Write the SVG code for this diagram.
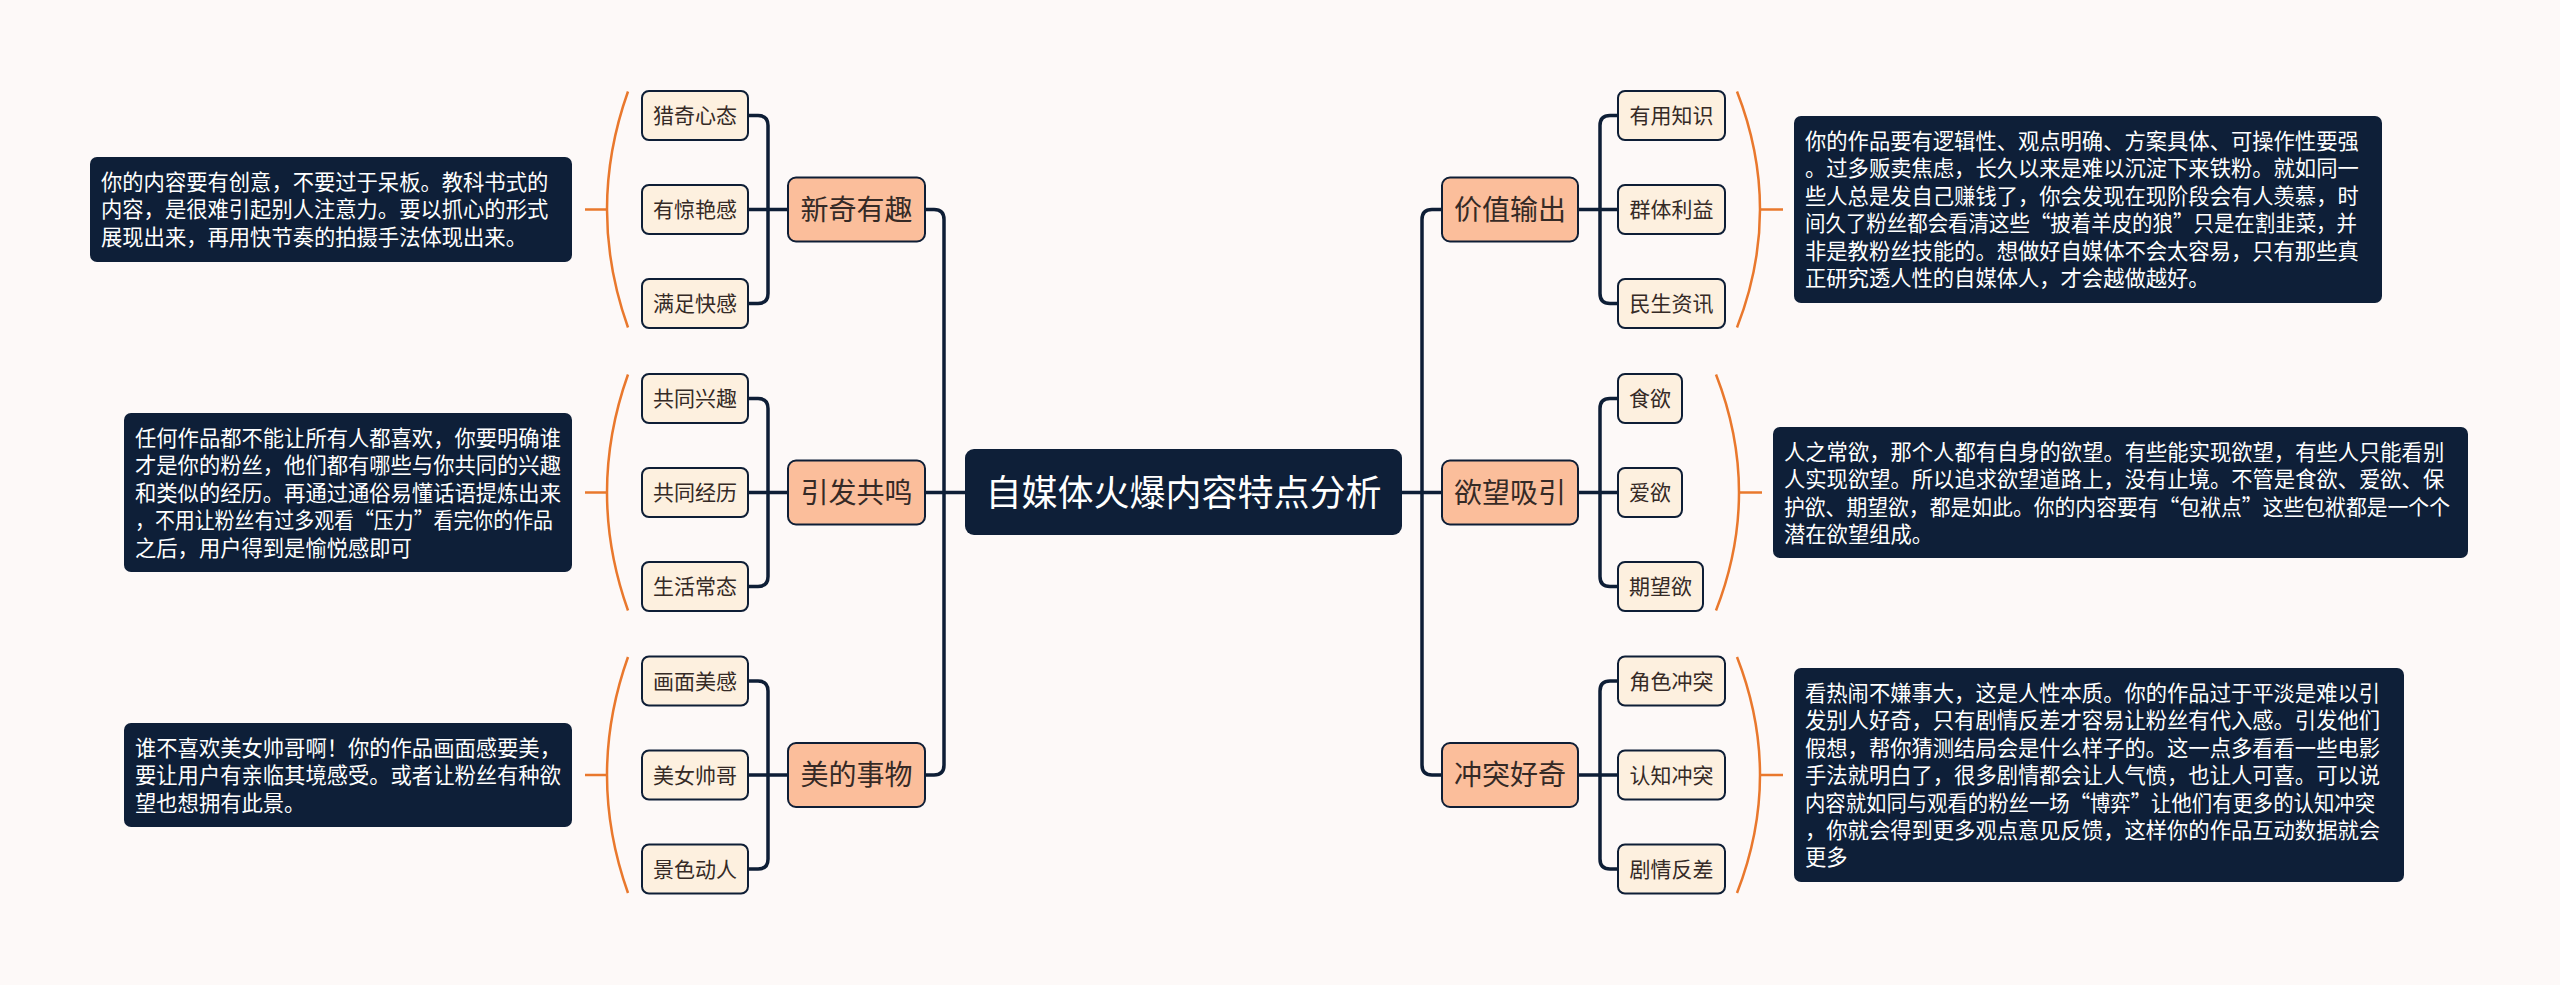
<svg xmlns="http://www.w3.org/2000/svg" width="2560" height="985" viewBox="0 0 2560 985">
<style>
.bg{fill:#FDF9F8}
.conn{fill:none;stroke:#0E1E36;stroke-width:3.5;stroke-linecap:round}
.brace{fill:none;stroke:#E9782D;stroke-width:2.5}
.leaf{fill:#FDF0DF;stroke:#0E1E36;stroke-width:2}
.branch{fill:#FBBE9B;stroke:#0E1E36;stroke-width:2}
.root{fill:#0E1F38}
.note{fill:#0E1F38}
.lt{font-family:"Noto Sans CJK SC","Noto Sans",sans-serif;font-size:21px;fill:#352a26;text-anchor:middle}
.bt{font-family:"Noto Sans CJK SC","Noto Sans",sans-serif;font-size:28px;fill:#352a26;text-anchor:middle}
.rt{font-family:"Noto Sans CJK SC","Noto Sans",sans-serif;font-size:36px;fill:#FFFFFF;text-anchor:middle}
.nt{font-family:"Noto Sans CJK SC","Noto Sans",sans-serif;font-size:21.3px;fill:#FFFFFF}
</style>
<rect class="bg" x="0" y="0" width="2560" height="985"/>

<g id="connectors">
  <path class="conn" d="M925 209.5 H934 Q944 209.5 944 219.5 V765 Q944 775 934 775 H925"/>
  <path class="conn" d="M925 492.5 H965"/>
  <path class="conn" d="M1442 209.5 H1432 Q1422 209.5 1422 219.5 V765 Q1422 775 1432 775 H1442"/>
  <path class="conn" d="M1402 492.5 H1442"/>
  <path class="conn" d="M748 115.5 H758 Q768 115.5 768 125.5 V293.5 Q768 303.5 758 303.5 H748"/>
  <path class="conn" d="M748 209.5 H788"/>
  <path class="conn" d="M748 398.5 H758 Q768 398.5 768 408.5 V576.5 Q768 586.5 758 586.5 H748"/>
  <path class="conn" d="M748 492.5 H788"/>
  <path class="conn" d="M748 681 H758 Q768 681 768 691 V859 Q768 869 758 869 H748"/>
  <path class="conn" d="M748 775 H788"/>
  <path class="conn" d="M1618 115.5 H1610 Q1600 115.5 1600 125.5 V293.5 Q1600 303.5 1610 303.5 H1618"/>
  <path class="conn" d="M1578 209.5 H1618"/>
  <path class="conn" d="M1618 398.5 H1610 Q1600 398.5 1600 408.5 V576.5 Q1600 586.5 1610 586.5 H1618"/>
  <path class="conn" d="M1578 492.5 H1618"/>
  <path class="conn" d="M1618 681 H1610 Q1600 681 1600 691 V859 Q1600 869 1610 869 H1618"/>
  <path class="conn" d="M1578 775 H1618"/>
</g>

<g id="braces">
  <path class="brace" d="M628 91.5 Q586 209.5 628 327.5"/><path class="brace" d="M585 209.5 H607"/>
  <path class="brace" d="M628 374.5 Q586 492.5 628 610.5"/><path class="brace" d="M585 492.5 H607"/>
  <path class="brace" d="M628 657 Q586 775 628 893"/><path class="brace" d="M585 775 H607"/>
  <path class="brace" d="M1737 91.5 Q1783 209.5 1737 327.5"/><path class="brace" d="M1760 209.5 H1783"/>
  <path class="brace" d="M1716 374.5 Q1762 492.5 1716 610.5"/><path class="brace" d="M1739 492.5 H1762"/>
  <path class="brace" d="M1737 657 Q1783 775 1737 893"/><path class="brace" d="M1760 775 H1783"/>
</g>

<g id="root">
  <rect class="root" x="965" y="449" width="437" height="86" rx="9"/>
  <text class="rt" x="1183.5" y="505.5">自媒体火爆内容特点分析</text>
</g>

<g id="b-xinqi">
  <rect class="branch" x="788" y="177.5" width="137" height="64" rx="8"/>
  <text class="bt" x="856.5" y="219.5">新奇有趣</text>
</g>
<g id="b-yinfa">
  <rect class="branch" x="788" y="460.5" width="137" height="64" rx="8"/>
  <text class="bt" x="856.5" y="502.5">引发共鸣</text>
</g>
<g id="b-meide">
  <rect class="branch" x="788" y="743" width="137" height="64" rx="8"/>
  <text class="bt" x="856.5" y="785">美的事物</text>
</g>
<g id="b-jiazhi">
  <rect class="branch" x="1442" y="177.5" width="136" height="64" rx="8"/>
  <text class="bt" x="1510" y="219.5">价值输出</text>
</g>
<g id="b-yuwang">
  <rect class="branch" x="1442" y="460.5" width="136" height="64" rx="8"/>
  <text class="bt" x="1510" y="502.5">欲望吸引</text>
</g>
<g id="b-chongtu">
  <rect class="branch" x="1442" y="743" width="136" height="64" rx="8"/>
  <text class="bt" x="1510" y="785">冲突好奇</text>
</g>

<g id="l-lieqi"><rect class="leaf" x="642" y="91" width="106" height="49" rx="7"/><text class="lt" x="695" y="123">猎奇心态</text></g>
<g id="l-jingyan"><rect class="leaf" x="642" y="185" width="106" height="49" rx="7"/><text class="lt" x="695" y="217">有惊艳感</text></g>
<g id="l-manzu"><rect class="leaf" x="642" y="279" width="106" height="49" rx="7"/><text class="lt" x="695" y="311">满足快感</text></g>
<g id="l-xingqu"><rect class="leaf" x="642" y="374" width="106" height="49" rx="7"/><text class="lt" x="695" y="406">共同兴趣</text></g>
<g id="l-jingli"><rect class="leaf" x="642" y="468" width="106" height="49" rx="7"/><text class="lt" x="695" y="500">共同经历</text></g>
<g id="l-shenghuo"><rect class="leaf" x="642" y="562" width="106" height="49" rx="7"/><text class="lt" x="695" y="594">生活常态</text></g>
<g id="l-huamian"><rect class="leaf" x="642" y="656.5" width="106" height="49" rx="7"/><text class="lt" x="695" y="688.5">画面美感</text></g>
<g id="l-meinv"><rect class="leaf" x="642" y="750.5" width="106" height="49" rx="7"/><text class="lt" x="695" y="782.5">美女帅哥</text></g>
<g id="l-jingse"><rect class="leaf" x="642" y="844.5" width="106" height="49" rx="7"/><text class="lt" x="695" y="876.5">景色动人</text></g>

<g id="l-youyong"><rect class="leaf" x="1618" y="91" width="107" height="49" rx="7"/><text class="lt" x="1671.5" y="123">有用知识</text></g>
<g id="l-qunti"><rect class="leaf" x="1618" y="185" width="107" height="49" rx="7"/><text class="lt" x="1671.5" y="217">群体利益</text></g>
<g id="l-minsheng"><rect class="leaf" x="1618" y="279" width="107" height="49" rx="7"/><text class="lt" x="1671.5" y="311">民生资讯</text></g>
<g id="l-shiyu"><rect class="leaf" x="1618" y="374" width="64" height="49" rx="7"/><text class="lt" x="1650" y="406">食欲</text></g>
<g id="l-aiyu"><rect class="leaf" x="1618" y="468" width="64" height="49" rx="7"/><text class="lt" x="1650" y="500">爱欲</text></g>
<g id="l-qiwang"><rect class="leaf" x="1618" y="562" width="85" height="49" rx="7"/><text class="lt" x="1660.5" y="594">期望欲</text></g>
<g id="l-juese"><rect class="leaf" x="1618" y="656.5" width="107" height="49" rx="7"/><text class="lt" x="1671.5" y="688.5">角色冲突</text></g>
<g id="l-renzhi"><rect class="leaf" x="1618" y="750.5" width="107" height="49" rx="7"/><text class="lt" x="1671.5" y="782.5">认知冲突</text></g>
<g id="l-juqing"><rect class="leaf" x="1618" y="844.5" width="107" height="49" rx="7"/><text class="lt" x="1671.5" y="876.5">剧情反差</text></g>

<g id="n-left1">
  <rect class="note" x="90" y="157" width="482" height="105" rx="7"/>
  <text class="nt" x="101" y="190">你的内容要有创意，不要过于呆板。教科书式的</text>
  <text class="nt" x="101" y="217.4">内容，是很难引起别人注意力。要以抓心的形式</text>
  <text class="nt" x="101" y="244.8">展现出来，再用快节奏的拍摄手法体现出来。</text>
</g>
<g id="n-left2">
  <rect class="note" x="124" y="413" width="448" height="159" rx="7"/>
  <text class="nt" x="135" y="446">任何作品都不能让所有人都喜欢，你要明确谁</text>
  <text class="nt" x="135" y="473.4">才是你的粉丝，他们都有哪些与你共同的兴趣</text>
  <text class="nt" x="135" y="500.8">和类似的经历。再通过通俗易懂话语提炼出来</text>
  <text class="nt" x="135" y="528.2" textLength="418" lengthAdjust="spacingAndGlyphs">，不用让粉丝有过多观看“压力”看完你的作品</text>
  <text class="nt" x="135" y="555.6">之后，用户得到是愉悦感即可</text>
</g>
<g id="n-left3">
  <rect class="note" x="124" y="723" width="448" height="104" rx="7"/>
  <text class="nt" x="135" y="756">谁不喜欢美女帅哥啊！你的作品画面感要美，</text>
  <text class="nt" x="135" y="783.4">要让用户有亲临其境感受。或者让粉丝有种欲</text>
  <text class="nt" x="135" y="810.8">望也想拥有此景。</text>
</g>
<g id="n-right1">
  <rect class="note" x="1794" y="116" width="588" height="187" rx="7"/>
  <text class="nt" x="1805" y="149">你的作品要有逻辑性、观点明确、方案具体、可操作性要强</text>
  <text class="nt" x="1805" y="176.4">。过多贩卖焦虑，长久以来是难以沉淀下来铁粉。就如同一</text>
  <text class="nt" x="1805" y="203.8">些人总是发自己赚钱了，你会发现在现阶段会有人羡慕，时</text>
  <text class="nt" x="1805" y="231.2" textLength="552" lengthAdjust="spacingAndGlyphs">间久了粉丝都会看清这些“披着羊皮的狼”只是在割韭菜，并</text>
  <text class="nt" x="1805" y="258.6">非是教粉丝技能的。想做好自媒体不会太容易，只有那些真</text>
  <text class="nt" x="1805" y="286">正研究透人性的自媒体人，才会越做越好。</text>
</g>
<g id="n-right2">
  <rect class="note" x="1773" y="427" width="695" height="131" rx="7"/>
  <text class="nt" x="1784" y="460">人之常欲，那个人都有自身的欲望。有些能实现欲望，有些人只能看别</text>
  <text class="nt" x="1784" y="487.4">人实现欲望。所以追求欲望道路上，没有止境。不管是食欲、爱欲、保</text>
  <text class="nt" x="1784" y="514.8" textLength="666" lengthAdjust="spacingAndGlyphs">护欲、期望欲，都是如此。你的内容要有“包袱点”这些包袱都是一个个</text>
  <text class="nt" x="1784" y="542.2">潜在欲望组成。</text>
</g>
<g id="n-right3">
  <rect class="note" x="1794" y="668" width="610" height="214" rx="7"/>
  <text class="nt" x="1805" y="701">看热闹不嫌事大，这是人性本质。你的作品过于平淡是难以引</text>
  <text class="nt" x="1805" y="728.4">发别人好奇，只有剧情反差才容易让粉丝有代入感。引发他们</text>
  <text class="nt" x="1805" y="755.8">假想，帮你猜测结局会是什么样子的。这一点多看看一些电影</text>
  <text class="nt" x="1805" y="783.2">手法就明白了，很多剧情都会让人气愤，也让人可喜。可以说</text>
  <text class="nt" x="1805" y="810.6" textLength="570" lengthAdjust="spacingAndGlyphs">内容就如同与观看的粉丝一场“博弈”让他们有更多的认知冲突</text>
  <text class="nt" x="1805" y="838">，你就会得到更多观点意见反馈，这样你的作品互动数据就会</text>
  <text class="nt" x="1805" y="865.4">更多</text>
</g>
</svg>
